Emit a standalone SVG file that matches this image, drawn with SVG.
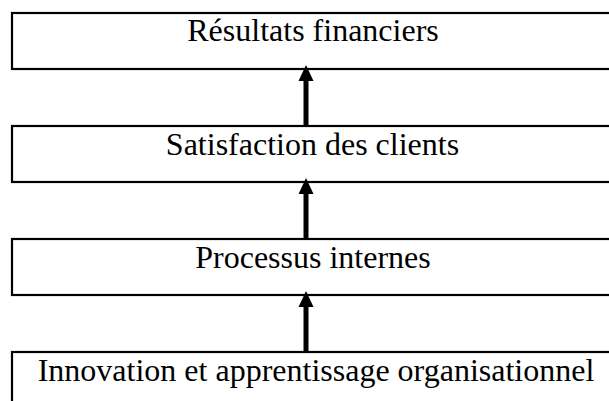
<svg xmlns="http://www.w3.org/2000/svg" width="609" height="401" viewBox="0 0 609 401">
<style>
.box{fill:#fff;stroke:#000;stroke-width:2.2}
.lbl{font-family:"Liberation Serif","Times New Roman",serif;font-size:32px;fill:#000;text-anchor:middle}
.shaft{stroke:#000;stroke-width:5;fill:none}
.head{fill:#000}
</style>
<rect width="609" height="401" fill="#fff"/>
<g id="node-resultats"><rect class="box" x="12" y="13" width="620" height="56"/><text class="lbl" x="313" y="41">Résultats financiers</text></g>
<g id="node-clients"><rect class="box" x="12" y="126" width="620" height="56"/><text class="lbl" x="312.5" y="155">Satisfaction des clients</text></g>
<g id="node-processus"><rect class="box" x="12" y="239" width="620" height="56"/><text class="lbl" x="313" y="268">Processus internes</text></g>
<g id="node-innovation"><rect class="box" x="12" y="352" width="620" height="60"/><text class="lbl" x="316" y="381">Innovation et apprentissage organisationnel</text></g>
<g id="connectors">
<line class="shaft" x1="306" y1="126" x2="306" y2="78"/><polygon class="head" points="306,65 298.5,81 313.5,81"/>
<line class="shaft" x1="306" y1="239" x2="306" y2="191"/><polygon class="head" points="306,178 298.5,194 313.5,194"/>
<line class="shaft" x1="306" y1="352" x2="306" y2="304"/><polygon class="head" points="306,291 298.5,307 313.5,307"/>
</g>
</svg>
